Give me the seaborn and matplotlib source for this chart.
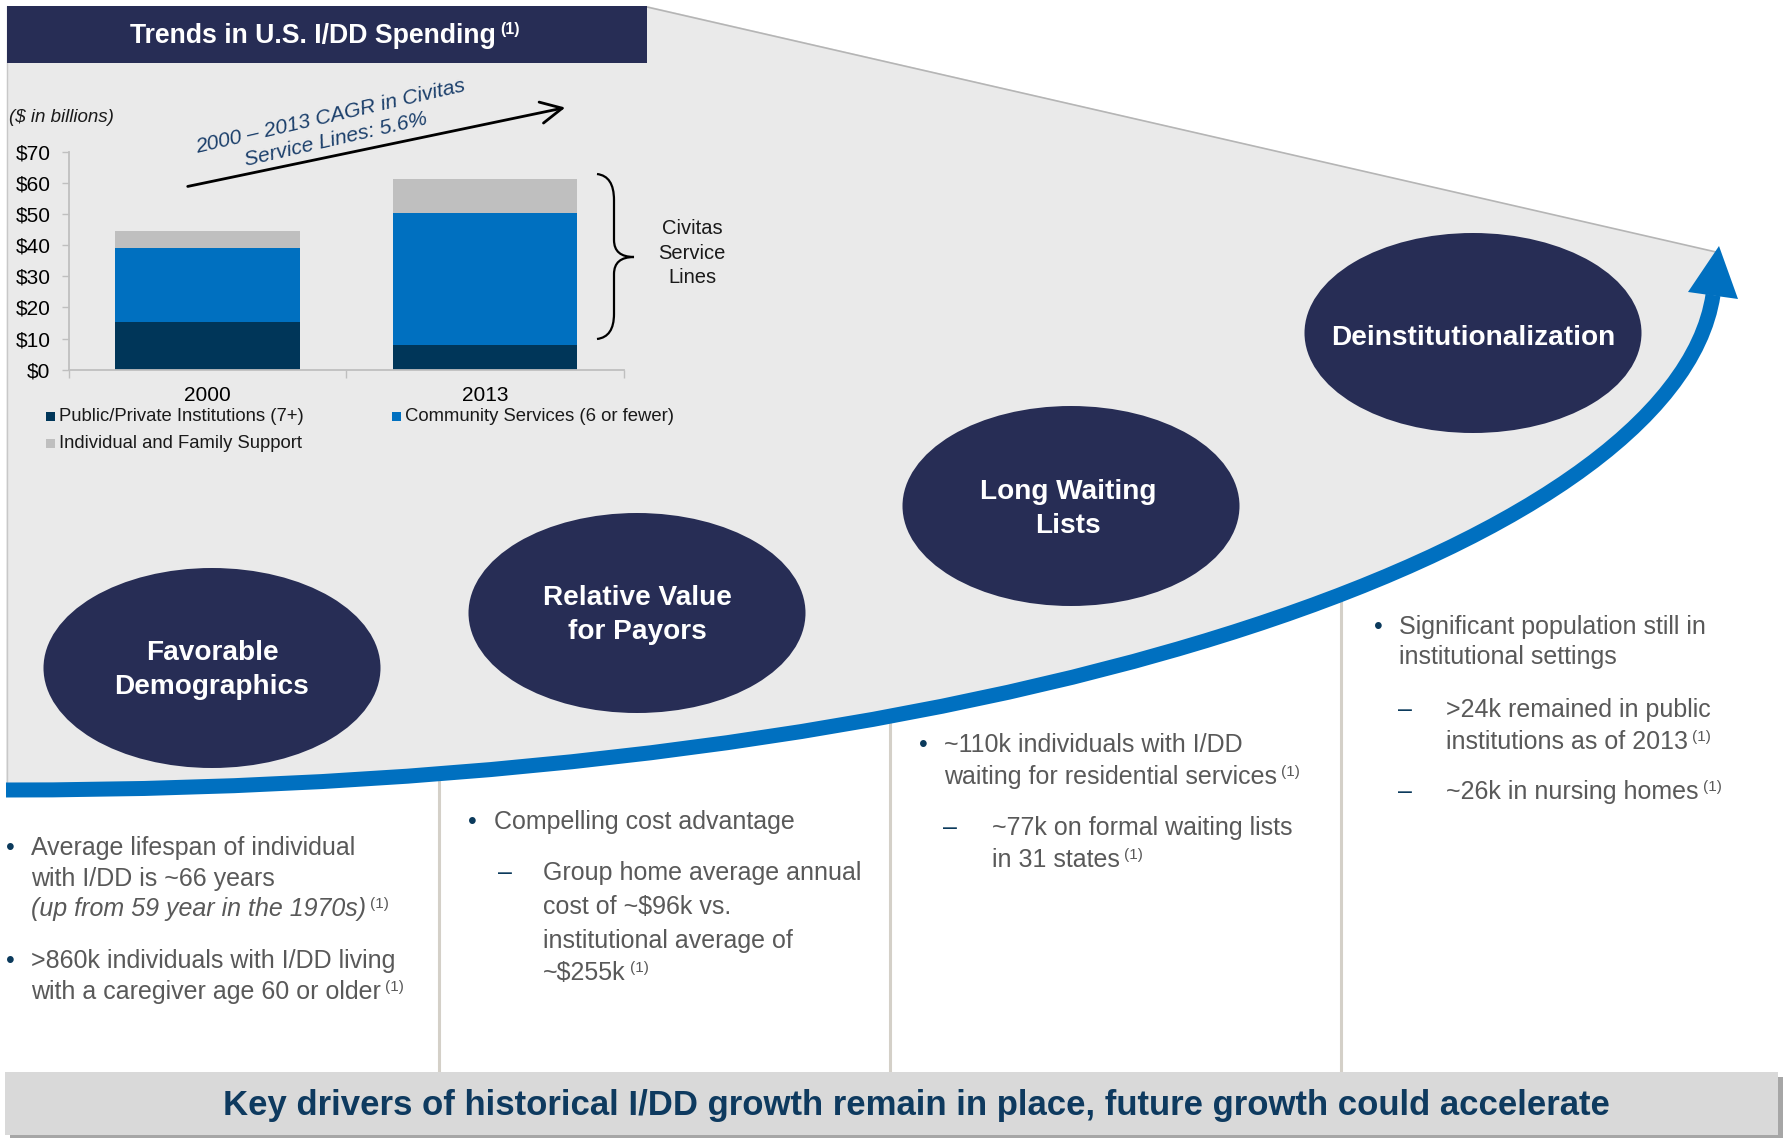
import numpy as np
import pandas as pd
import matplotlib
matplotlib.use("Agg")
import matplotlib.pyplot as plt
import seaborn as sns
from matplotlib.patches import Ellipse, Rectangle, Polygon, PathPatch
from matplotlib.path import Path

# ---- data -------------------------------------------------------------
years = ["2000", "2013"]
institutions = [15.4, 8.1]        # Public/Private Institutions (7+)
community = [23.7, 42.2]          # Community Services (6 or fewer)
family_support = [5.6, 11.0]      # Individual and Family Support
y_ticks = [0, 10, 20, 30, 40, 50, 60, 70]
y_tick_labels = ["$0", "$10", "$20", "$30", "$40", "$50", "$60", "$70"]
legend_labels = ["Public/Private Institutions (7+)",
                 "Community Services (6 or fewer)",
                 "Individual and Family Support"]

# ---- style --------------------------------------------------------------
sns.set_theme(style="white")
plt.rcParams["font.family"] = ["Liberation Sans", "DejaVu Sans"]

NAVY = "#272D55"
DARK = "#003659"
BLUE = "#0070C0"
LGRAY = "#BFBFBF"
PANEL = "#EAEAEA"
BODY = "#595959"
ACCENT = "#0B3A5C"

W, H = 1789, 1138
fig = plt.figure(figsize=(W / 100, H / 100), dpi=100)
fig.patch.set_facecolor("white")

# background canvas in pixel units (y downwards)
bg = fig.add_axes([0, 0, 1, 1])
bg.set_xlim(0, W)
bg.set_ylim(H, 0)
bg.axis("off")

# growth arrow: one cubic Bezier sweeping up to the right
ctrl = np.array([(6, 790), (1006, 790), (1675, 545), (1713, 295)], float)
tt_ = np.linspace(0, 1, 400)[:, None]
arc = ((1 - tt_) ** 3 * ctrl[0] + 3 * (1 - tt_) ** 2 * tt_ * ctrl[1]
       + 3 * (1 - tt_) * tt_ ** 2 * ctrl[2] + tt_ ** 3 * ctrl[3])

# grey funnel panel
panel = np.vstack([[(7, 6), (647, 6), (1716, 252)], arc[::-1]])
bg.add_patch(Polygon(panel, closed=True, facecolor=PANEL, edgecolor="none", zorder=1))
bg.plot([647, 1716], [7, 252], color="#B5B5B5", lw=1.2, zorder=1.5)
bg.plot([7, 7], [6, 790], color="#C8C8C8", lw=1.0, zorder=1.5)

# column separators
for sx in [439, 890, 1341]:
    sy = np.interp(sx, arc[:, 0], arc[:, 1])
    bg.plot([sx, sx], [sy, 1073], color="#D4D0C8", lw=2.2, zorder=2,
            solid_capstyle="butt")

# blue arrow
bg.add_patch(PathPatch(Path(ctrl, [Path.MOVETO, Path.CURVE4, Path.CURVE4, Path.CURVE4]),
                       facecolor="none", edgecolor=BLUE, lw=10.8, capstyle="butt", zorder=3))
bg.add_patch(Polygon([(1719, 246), (1688, 292), (1738, 299)], closed=True,
                     facecolor=BLUE, edgecolor="none", zorder=3))

# driver ellipses
ellipses = [((212, 668), "Favorable\nDemographics", (212, 670)),
            ((637, 613), "Relative Value\nfor Payors", (637, 615)),
            ((1071, 506), "Long Waiting\nLists", (1068, 509)),
            ((1473, 333), "Deinstitutionalization", (1473, 338))]
for (cx, cy), label, (tx, ty) in ellipses:
    bg.add_patch(Ellipse((cx, cy), 337, 200, facecolor=NAVY, edgecolor="none", zorder=4))
    bg.text(tx, ty, label, ha="center", va="center", color="white",
            fontsize=20.2, fontweight="bold", linespacing=1.36, zorder=5)

# title box
bg.add_patch(Rectangle((7, 6), 640, 57, facecolor=NAVY, edgecolor="none", zorder=4))
tt = bg.text(313, 36, "Trends in U.S. I/DD Spending", ha="center", va="center",
             color="white", fontsize=19.2, fontweight="bold", zorder=5)
bg.annotate("(1)", xy=(1, 1), xycoords=tt, xytext=(3, 1), textcoords="offset points",
            ha="left", va="top", color="white", fontsize=11.5, fontweight="bold", zorder=5)

# ---- stacked bar chart -------------------------------------------------
df = pd.DataFrame({"year": years,
                   "inst": institutions,
                   "comm": community,
                   "fam": family_support})
df["lvl1"] = df["inst"]
df["lvl2"] = df["inst"] + df["comm"]
df["lvl3"] = df["lvl2"] + df["fam"]

ax = fig.add_axes([68.5 / W, 1 - 369.7 / H, (624 - 68.5) / W, (369.7 - 152) / H])
ax.patch.set_alpha(0)
for col, colr in [("lvl3", LGRAY), ("lvl2", BLUE), ("lvl1", DARK)]:
    sns.barplot(data=df, x="year", y=col, color=colr, width=0.665, saturation=1,
                edgecolor="none", linewidth=0, ax=ax)
ax.set_xlim(-0.5, 1.5)
ax.set_ylim(0, 70)
ax.set_xlabel("")
ax.set_ylabel("")
for s in ["top", "right"]:
    ax.spines[s].set_visible(False)
for s in ["left", "bottom"]:
    ax.spines[s].set_color(LGRAY)
    ax.spines[s].set_linewidth(1.3)
ax.set_yticks(y_ticks)
ax.set_yticklabels(y_tick_labels)
ax.tick_params(axis="y", left=True, length=5, width=1, color=LGRAY, pad=8,
               labelsize=15, labelcolor="black")
ax.set_xticks([0, 1])
ax.set_xticklabels(years)
ax.set_xticks([-0.5, 0.5, 1.5], minor=True)
ax.tick_params(axis="x", which="major", bottom=True, length=0, pad=12,
               labelsize=15, labelcolor="black")
ax.tick_params(axis="x", which="minor", bottom=True, length=6, width=1, color=LGRAY)
ax.grid(False)

# legend
leg_items = [((46, 412), (59, 416), DARK, legend_labels[0]),
             ((392, 412), (405, 416), BLUE, legend_labels[1]),
             ((46, 439), (59, 443), LGRAY, legend_labels[2])]
for (rx, ry), (lx, ly), colr, lab in leg_items:
    bg.add_patch(Rectangle((rx, ry), 9, 9, facecolor=colr, edgecolor="none", zorder=5))
    bg.text(lx, ly, lab, ha="left", va="center", fontsize=13.3, color="#1A1A1A", zorder=5)

bg.text(9, 117, "($ in billions)", ha="left", va="center", fontsize=13.5,
        style="italic", color="#1A1A1A", zorder=5)

# CAGR callout
bg.annotate("", xy=(568, 107), xytext=(185, 187),
            arrowprops=dict(arrowstyle="->,head_length=0.7,head_width=0.35",
                            lw=2, color="black", mutation_scale=22), zorder=5)
bg.text(333, 128, "2000 \u2013 2013 CAGR in Civitas\nService Lines: 5.6%",
        ha="center", va="center", rotation=13, rotation_mode="anchor",
        style="italic", color="#1B3F6B", fontsize=15.2, linespacing=1.3, zorder=5)

# brace + label
brace_verts = [(597, 174), (614, 176), (614, 200), (614, 240),
               (614, 257), (634, 257),
               (614, 257), (614, 274), (614, 314),
               (614, 337), (597, 339)]
brace_codes = [Path.MOVETO, Path.CURVE3, Path.CURVE3, Path.LINETO,
               Path.CURVE3, Path.CURVE3,
               Path.CURVE3, Path.CURVE3, Path.LINETO,
               Path.CURVE3, Path.CURVE3]
bg.add_patch(PathPatch(Path(brace_verts, brace_codes), facecolor="none",
                       edgecolor="black", lw=1.6, zorder=5))
bg.text(692, 253, "Civitas\nService\nLines", ha="center", va="center",
        fontsize=14.5, color="#1A1A1A", linespacing=1.36, zorder=5)

# ---- bullet text columns -------------------------------------------------
SUP = "(1)"


def line(x, y, s, sup=False, italic=False):
    t = bg.text(x, y, s, ha="left", va="center", fontsize=18, color=BODY,
                style="italic" if italic else "normal", zorder=5)
    if sup:
        bg.annotate(SUP, xy=(1, 1), xycoords=t, xytext=(3, 0), textcoords="offset points",
                    ha="left", va="top", fontsize=11, color=BODY, zorder=5)


def bullet(x, y):
    bg.text(x, y, "\u2022", ha="left", va="center", fontsize=18, color=ACCENT, zorder=5)


def dash(x, y):
    bg.text(x, y, "\u2013", ha="left", va="center", fontsize=18, color=ACCENT, zorder=5)


# column 1
bullet(6, 848)
line(31, 848, "Average lifespan of individual")
line(31, 879, "with I/DD is ~66 years")
line(31, 909, "(up from 59 year in the 1970s)", sup=True, italic=True)
bullet(6, 961)
line(31, 961, ">860k individuals with I/DD living")
line(31, 992, "with a caregiver age 60 or older", sup=True)

# column 2
bullet(468, 822)
line(494, 822, "Compelling cost advantage")
dash(498, 873)
line(543, 873, "Group home average annual")
line(543, 907, "cost of ~$96k vs.")
line(543, 941, "institutional average of")
line(543, 973, "~$255k", sup=True)

# column 3
bullet(919, 745)
line(944, 745, "~110k individuals with I/DD")
line(944, 777, "waiting for residential services", sup=True)
dash(943, 828)
line(992, 828, "~77k on formal waiting lists")
line(992, 860, "in 31 states", sup=True)

# column 4
bullet(1374, 627)
line(1399, 627, "Significant population still in")
line(1399, 657, "institutional settings")
dash(1398, 710)
line(1446, 710, ">24k remained in public")
line(1446, 742, "institutions as of 2013", sup=True)
dash(1398, 792)
line(1446, 792, "~26k in nursing homes", sup=True)

# ---- bottom banner -------------------------------------------------------
bg.add_patch(Rectangle((10, 1077), 1773, 63, facecolor="#A6A6A6", edgecolor="none", zorder=4))
bg.add_patch(Rectangle((5, 1072), 1773, 63, facecolor="#D9D9D9", edgecolor="none", zorder=4.5))
bg.text(916, 1106, "Key drivers of historical I/DD growth remain in place, future growth could accelerate",
        ha="center", va="center", fontsize=25, fontweight="bold", color="#0E3A5F", zorder=5)

fig.savefig("out.png", dpi=100, facecolor="white")
